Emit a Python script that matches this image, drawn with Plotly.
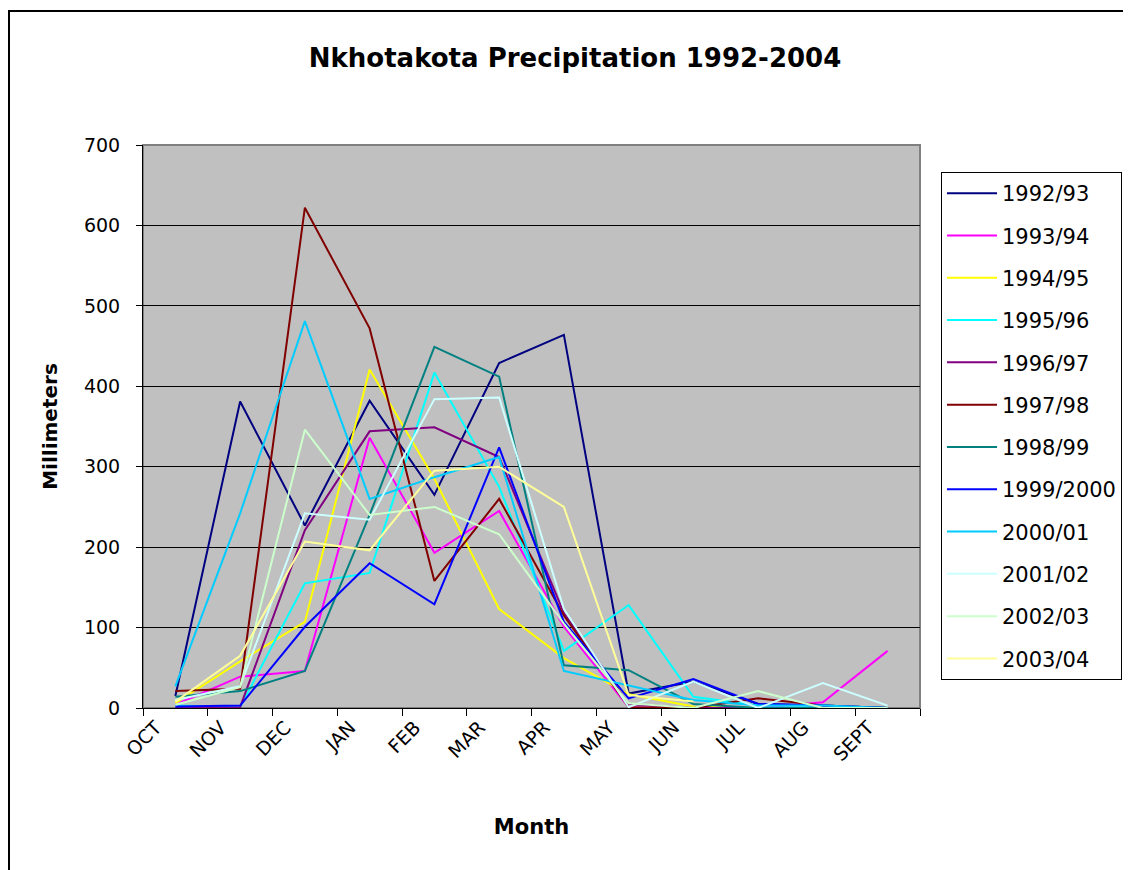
import plotly.graph_objects as go

months = ["OCT", "NOV", "DEC", "JAN", "FEB", "MAR", "APR", "MAY", "JUN", "JUL", "AUG", "SEPT"]

season_names = ["1992/93", "1993/94", "1994/95", "1995/96", "1996/97", "1997/98",
                "1998/99", "1999/2000", "2000/01", "2001/02", "2002/03", "2003/04"]

s1992_93 = [15, 381, 227, 382, 265, 429, 464, 18, 33, 5, 3, 0]
s1993_94 = [4, 39, 46, 336, 193, 245, 101, 1, 0, 0, 7, 71]
s1994_95 = [6, 58, 107, 421, 285, 123, 62, 17, 2, 0, 0, 0]
s1995_96 = [3, 1, 155, 168, 417, 275, 71, 128, 14, 3, 3, 0]
s1996_97 = [0, 1, 221, 344, 349, 312, 118, 5, 0, 0, 0, 0]
s1997_98 = [21, 24, 622, 472, 158, 260, 115, 1, 0, 12, 3, 0]
s1998_99 = [14, 21, 46, 240, 449, 412, 53, 47, 5, 0, 0, 0]
s1999_2000 = [2, 3, 101, 180, 129, 324, 107, 12, 36, 5, 3, 0]
s2000_01 = [27, 242, 481, 260, 287, 312, 46, 28, 10, 3, 3, 0]
s2001_02 = [10, 27, 242, 234, 384, 386, 123, 1, 33, 0, 31, 3]
s2002_03 = [4, 26, 346, 240, 250, 216, 105, 6, 0, 21, 0, 0]
s2003_04 = [8, 65, 207, 196, 295, 300, 250, 16, 8, None, None, None]

series = [s1992_93, s1993_94, s1994_95, s1995_96, s1996_97, s1997_98,
          s1998_99, s1999_2000, s2000_01, s2001_02, s2002_03, s2003_04]

colors = ["#000080", "#FF00FF", "#FFFF00", "#00FFFF", "#800080", "#800000",
          "#008080", "#0000FF", "#00CCFF", "#CCFFFF", "#CCFFCC", "#FFFF99"]

FONT = "DejaVu Sans"
xpos = list(range(len(months)))

fig = go.Figure()
for name, vals, col in zip(season_names, series, colors):
    fig.add_trace(go.Scatter(
        x=xpos, y=vals, name=name, mode="lines",
        line=dict(color=col, width=2), legendgroup=name,
        connectgaps=False,
    ))

# page body adds an 8px offset; work in figure coordinates
OFF = 8
W, H = 1123, 862
L = 143 - OFF
T = 145 - OFF
R = W - (920 - OFF)
B = H - (708 - OFF)
pw = W - L - R
ph = H - T - B

def px_x(p):
    return (p - OFF - L) / pw

def px_y(p):
    return (H - B - (p - OFF)) / ph

fig.update_layout(
    width=W, height=H,
    margin=dict(l=L, r=R, t=T, b=B, autoexpand=False),
    paper_bgcolor="white",
    plot_bgcolor="#C0C0C0",
    font=dict(family=FONT, color="black", size=19),
    title=dict(text="<b>Nkhotakota Precipitation 1992-2004</b>",
               x=(575 - OFF) / W, xanchor="center", xref="container",
               y=1 - (58 - OFF) / H, yanchor="middle", yref="container",
               font=dict(family=FONT, size=26, color="black")),
    showlegend=True,
    legend=dict(
        x=px_x(941), y=px_y(172), xanchor="left", yanchor="top",
        bordercolor="black", borderwidth=1, bgcolor="white",
        font=dict(family=FONT, size=21, color="black"),
        tracegroupgap=12, itemwidth=50,
    ),
    xaxis=dict(
        range=[-0.5, len(months) - 0.5],
        tickmode="array",
        tickvals=[i - 0.3 for i in xpos],
        ticktext=months,
        tickangle=-45,
        ticks="", showgrid=False, zeroline=False,
        showline=True, linecolor="black", linewidth=1,
        tickfont=dict(family=FONT, size=19, color="black"),
        minor=dict(ticks="outside", tickmode="linear", tick0=-0.5, dtick=1,
                   ticklen=7, tickcolor="black", tickwidth=1, showgrid=False),
        title=dict(text="<b>Month</b>", font=dict(family=FONT, size=21, color="black"),
                   standoff=55),
        fixedrange=True,
    ),
    yaxis=dict(
        range=[0, 700], dtick=100, tick0=0,
        ticks="outside", ticklen=6, tickcolor="black",
        ticklabelstandoff=12,
        showgrid=True, gridcolor="black", gridwidth=1,
        zeroline=False, showline=True, linecolor="black", linewidth=1,
        tickfont=dict(family=FONT, size=19, color="black"),
        title=dict(text="<b>Millimeters</b>", font=dict(family=FONT, size=20, color="black"),
                   standoff=20),
        fixedrange=True,
    ),
)

# plot area border (top/right gray)
fig.add_shape(type="rect", xref="paper", yref="paper", x0=0, x1=1, y0=0, y1=1,
              line=dict(color="#808080", width=2), fillcolor="rgba(0,0,0,0)", layer="below")
# outer chart border
fig.add_shape(type="rect", xref="paper", yref="paper",
              x0=px_x(9), x1=px_x(1200), y0=px_y(930), y1=px_y(11),
              line=dict(color="black", width=2), fillcolor="rgba(0,0,0,0)")

fig.write_html("out.html")
